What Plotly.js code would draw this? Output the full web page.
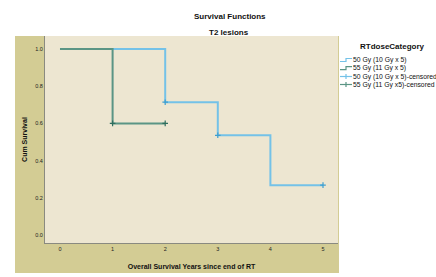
<!DOCTYPE html>
<html><head><meta charset="utf-8">
<script src="https://cdn.plot.ly/plotly-3.0.1.min.js"></script>
<style>html,body{margin:0;padding:0;background:#fff}#chart{width:436px;height:277px}</style>
</head><body><div id="chart"></div>
<script>
// Data
const years50 = [0, 2, 3, 4, 5];
const surv50 = [1.0, 0.714, 0.536, 0.268, 0.268];
const cens50Years = [2, 3, 5];
const cens50Surv = [0.714, 0.536, 0.268];
const years55 = [0, 1, 2];
const surv55 = [1.0, 0.6, 0.6];
const cens55Years = [1, 2];
const cens55Surv = [0.6, 0.6];
const seriesNames = ['50 Gy (10 Gy x 5)', '55 Gy (11 Gy x 5)', '50 Gy (10 Gy x 5)-censored', '55 Gy (11 Gy x5)-censored'];
const xTicks = [0, 1, 2, 3, 4, 5];
const yTicks = [0, 0.2, 0.4, 0.6, 0.8, 1.0];

const BLUE = '#74c2e8', GREEN = '#5b9585', GREEN_DARK = '#2f6e5e', BLUE_DARK = '#3f9fd0';
const W = 436, H = 277, L = 45, R = 338, T = 36, B = 243;
const px = x => (x - L) / (R - L);
const py = y => (B - y) / (B - T);
const FONT = 'Liberation Sans, Arial, sans-serif';

const traces = [
  {x: years50, y: surv50, mode: 'lines', line: {shape: 'hv', color: BLUE, width: 2}, name: seriesNames[0], showlegend: false},
  {x: years55, y: surv55, mode: 'lines', line: {shape: 'hv', color: GREEN, width: 2}, name: seriesNames[1], showlegend: false},
  {x: cens50Years, y: cens50Surv, mode: 'markers', marker: {symbol: 'cross-thin-open', size: 4, color: BLUE_DARK, line: {color: BLUE_DARK, width: 1.2}}, name: seriesNames[2], showlegend: false},
  {x: cens55Years, y: cens55Surv, mode: 'markers', marker: {symbol: 'cross-thin-open', size: 4, color: GREEN_DARK, line: {color: GREEN_DARK, width: 1.2}}, name: seriesNames[3], showlegend: false}
];

const shapes = [
  {type: 'rect', xref: 'paper', yref: 'paper', x0: px(15), x1: px(339), y0: py(273), y1: py(36), fillcolor: '#d3cc94', line: {width: 0}, layer: 'below'},
  {type: 'rect', xref: 'paper', yref: 'paper', x0: 0, x1: 1, y0: 0, y1: 1, fillcolor: '#ede6d1', line: {width: 0}, layer: 'below'}
];
const ann = (text, x, y, size, xanchor) => ({text: text, x: px(x), y: py(y), xref: 'paper', yref: 'paper', xanchor: xanchor || 'center', yanchor: 'middle', showarrow: false, font: {family: FONT, size: size, color: '#111'}});
const annotations = [
  ann('<b>Survival Functions</b>', 229.5, 16.5, 8),
  ann('<b>T2 lesions</b>', 229, 32.5, 8),
  ann('<b>RTdoseCategory</b>', 392.5, 46, 8)
];
const rowY = [60, 68.2, 76.5, 84.5];
const glyphColors = [BLUE, GREEN, BLUE, GREEN];
seriesNames.forEach((nm, i) => {
  annotations.push(ann(nm, 351, rowY[i], 6.8, 'left'));
  const y = rowY[i], c = glyphColors[i];
  if (i < 2) {
    shapes.push({type: 'path', xref: 'paper', yref: 'paper',
      path: `M ${px(340)} ${py(y + 1.5)} L ${px(346)} ${py(y + 1.5)} L ${px(346)} ${py(y - 1.5)} L ${px(352)} ${py(y - 1.5)}`,
      line: {color: c, width: 1.2}});
  } else {
    shapes.push({type: 'line', xref: 'paper', yref: 'paper', x0: px(340), x1: px(352), y0: py(y), y1: py(y), line: {color: c, width: 1.2}});
    shapes.push({type: 'line', xref: 'paper', yref: 'paper', x0: px(346), x1: px(346), y0: py(y - 2.5), y1: py(y + 2.5), line: {color: c, width: 1.2}});
  }
});

const axisCommon = {showgrid: false, zeroline: false, showline: true, linecolor: '#8a8a80', linewidth: 1, ticks: '', tickfont: {family: FONT, size: 5.5, color: '#222'}, fixedrange: true};
const layout = {
  width: W, height: H, margin: {l: L, r: W - R, t: T, b: H - B, pad: 0},
  paper_bgcolor: '#ffffff', plot_bgcolor: 'rgba(0,0,0,0)', showlegend: false,
  xaxis: Object.assign({}, axisCommon, {range: [-0.285, 5.285], tickvals: xTicks, ticktext: xTicks.map(String),
    title: {text: '<b>Overall Survival Years since end of RT</b>', font: {family: FONT, size: 7, color: '#111'}, standoff: 13}}),
  yaxis: Object.assign({}, axisCommon, {range: [-0.043, 1.07], tickvals: yTicks, ticktext: yTicks.map(v => v.toFixed(1)),
    title: {text: '<b>Cum Survival</b>', font: {family: FONT, size: 7, color: '#111'}, standoff: 6}}),
  shapes: shapes, annotations: annotations
};
Plotly.newPlot('chart', traces, layout, {staticPlot: true, displayModeBar: false});
</script></body></html>
